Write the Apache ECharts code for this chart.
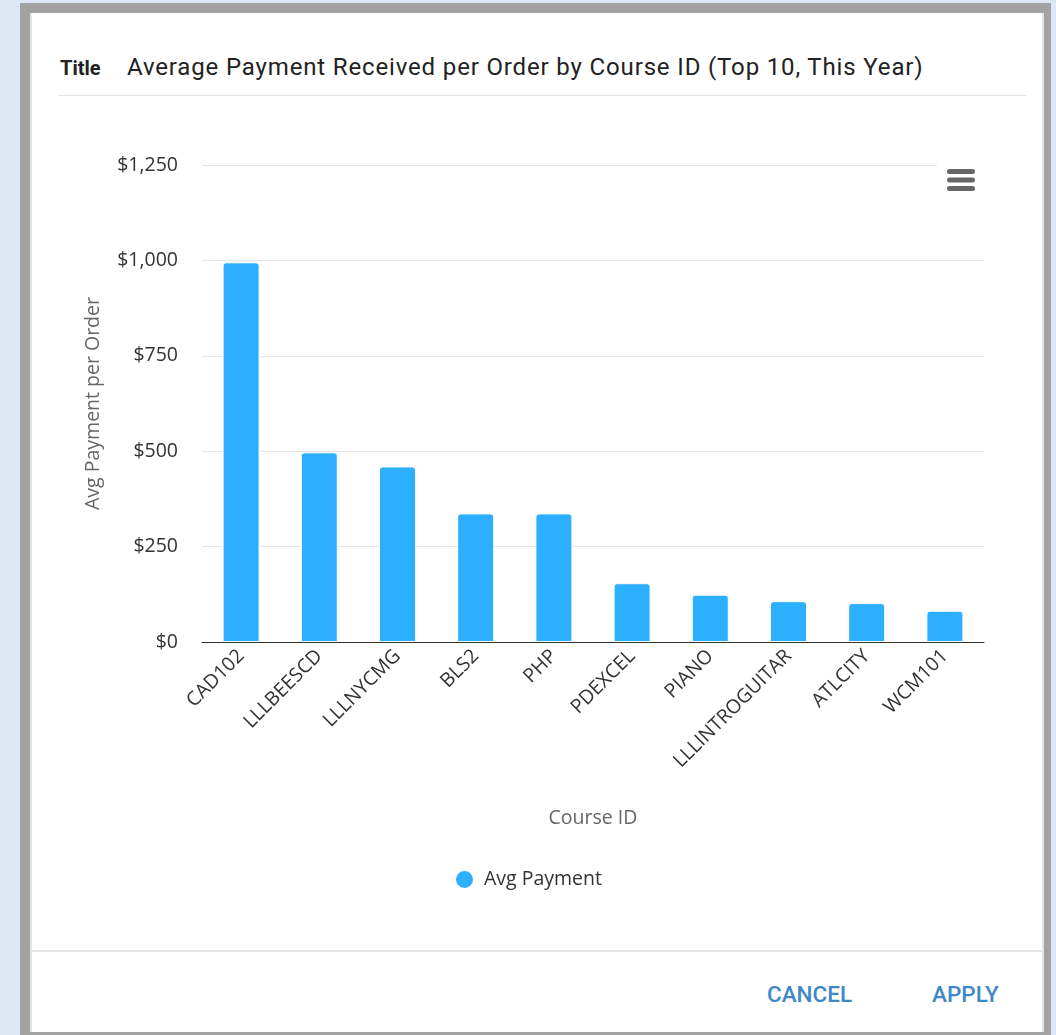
<!DOCTYPE html>
<html>
<head>
<meta charset="utf-8">
<script src="https://cdn.jsdelivr.net/npm/echarts@6/dist/echarts.min.js"></script>
<style>
  html, body { margin: 0; padding: 0; width: 1056px; height: 1035px; overflow: hidden; background: #dde8f4; }
  #frame { position: absolute; left: 20px; top: 3px; width: 1031px; height: 1032px; background: #a2a2a2; }
  #panel { position: absolute; left: 30px; top: 13px; width: 1010px; height: 1019px; background: #fff; border-left: 2px solid #e4e4e4; border-right: 2px solid #e4e4e4; box-sizing: content-box; }
  #sep1 { position: absolute; left: 58px; top: 95px; width: 968px; height: 1px; background: #e3e3e3; }
  #sep2 { position: absolute; left: 30px; top: 950px; width: 1014px; height: 2px; background: #e6e6e6; }
  #titleLbl { position: absolute; left: 60px; top: 56px; font: bold 20px Roboto, sans-serif; color: #222; }
  #titleTxt { position: absolute; left: 127px; top: 53px; font: 24px Roboto, sans-serif; letter-spacing: 0.85px; color: #222; white-space: nowrap; }
  .btn { position: absolute; top: 981px; font: 500 22.5px Roboto, sans-serif; color: #3f87c7; }
  #chart { position: absolute; left: 0; top: 0; width: 1056px; height: 1035px; }
</style>
</head>
<body>
<div id="frame"></div>
<div id="panel"></div>
<div id="sep1"></div>
<div id="sep2"></div>
<div id="titleLbl">Title</div>
<div id="titleTxt">Average Payment Received per Order by Course ID (Top 10, This Year)</div>
<div class="btn" style="left:767px">CANCEL</div>
<div class="btn" style="left:932px">APPLY</div>
<div id="chart"></div>
<script>
const categories = ['CAD102', 'LLLBEESCD', 'LLLNYCMG', 'BLS2', 'PHP', 'PDEXCEL', 'PIANO', 'LLLINTROGUITAR', 'ATLCITY', 'WCM101'];
const avgPayment = [995, 497, 460, 337, 337, 154, 124, 107, 102, 82];
const seriesName = 'Avg Payment';
const yAxisTitle = 'Avg Payment per Order';
const xAxisTitle = 'Course ID';
const yMin = 0, yMax = 1250, yInterval = 250;

const font = "'Open Sans', sans-serif";
const fs = 19.5;
const chart = echarts.init(document.getElementById('chart'), null, { renderer: 'canvas' });
chart.setOption({
  backgroundColor: 'transparent',
  animation: false,
  grid: { left: 202, right: 72, top: 165, bottom: 393, containLabel: false },
  legend: {
    data: [seriesName], left: 449, top: 864, icon: 'circle', itemWidth: 19, itemHeight: 19, itemGap: 8,
    textStyle: { fontFamily: font, fontSize: fs, color: '#333', padding: [0, 0, 0, 5] }
  },
  xAxis: {
    type: 'category', data: categories,
    name: xAxisTitle, nameLocation: 'middle', nameGap: 166,
    nameTextStyle: { fontFamily: font, fontSize: fs, color: '#666' },
    axisTick: { show: false },
    axisLine: { lineStyle: { color: '#333', width: 1 } },
    axisLabel: { rotate: 45, margin: 11, interval: 0, fontFamily: font, fontSize: fs, color: '#333' }
  },
  yAxis: {
    type: 'value', min: yMin, max: yMax, interval: yInterval,
    name: yAxisTitle, nameLocation: 'middle', nameGap: 99,
    nameTextStyle: { fontFamily: font, fontSize: fs, color: '#666' },
    axisLine: { show: false }, axisTick: { show: false },
    splitLine: { lineStyle: { color: '#e6e6e6', width: 1 } },
    axisLabel: {
      margin: 24, fontFamily: font, fontSize: fs, color: '#333',
      formatter: v => '$' + v.toLocaleString('en-US')
    }
  },
  series: [{
    name: seriesName, type: 'bar', data: avgPayment, barWidth: 37,
    itemStyle: { color: '#2caffe', borderRadius: [3, 3, 0, 0], borderColor: '#ffffff', borderWidth: 1 }
  }],
  graphic: [
    { type: 'rect', left: 937, top: 155, shape: { width: 48, height: 45 }, style: { fill: '#fff' }, z: 50 },
    { type: 'rect', left: 947, top: 169, shape: { width: 28, height: 5, r: 2.5 }, style: { fill: '#666' }, z: 51 },
    { type: 'rect', left: 947, top: 177.5, shape: { width: 28, height: 5, r: 2.5 }, style: { fill: '#666' }, z: 51 },
    { type: 'rect', left: 947, top: 186, shape: { width: 28, height: 5, r: 2.5 }, style: { fill: '#666' }, z: 51 }
  ]
});
</script>
</body>
</html>
